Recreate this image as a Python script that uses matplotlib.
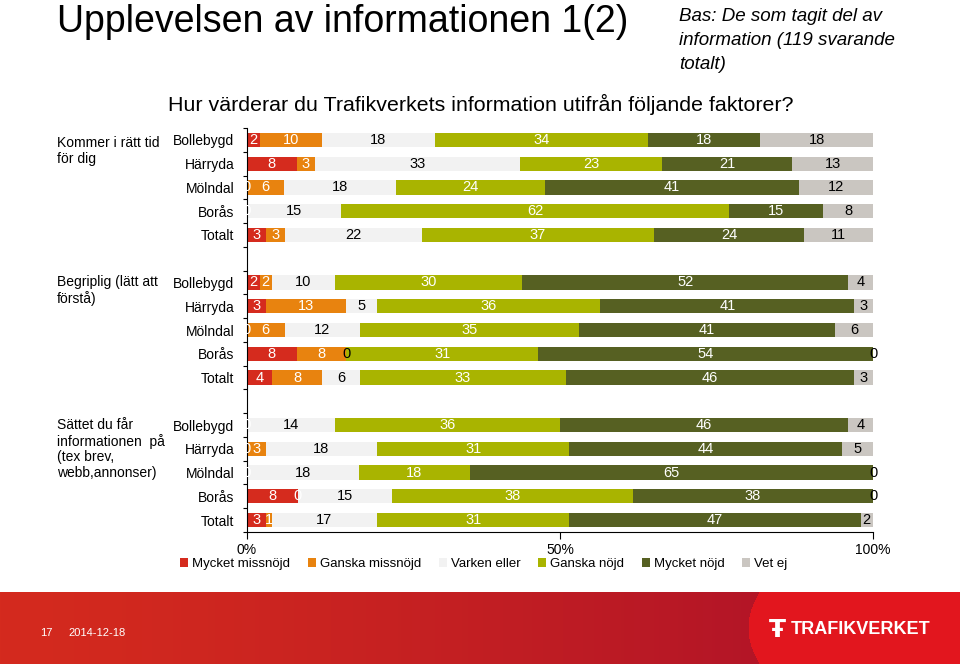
import numpy as np
import matplotlib
matplotlib.use("Agg")
import matplotlib.pyplot as plt
from matplotlib.patches import Patch

plt.rcParams['font.family'] = ['Liberation Sans', 'DejaVu Sans']

# Data
kategorier = ["Mycket missnöjd", "Ganska missnöjd", "Varken eller",
              "Ganska nöjd", "Mycket nöjd", "Vet ej"]
farger = ["#d52b1e", "#e8830f", "#f2f2f2", "#a9b400", "#566022", "#cac6c1"]
textfarg = ["white", "white", "black", "white", "white", "black"]

orter = ["Bollebygd", "Härryda", "Mölndal", "Borås", "Totalt"]
fragor = ["Kommer i rätt tid\nför dig",
          "Begriplig (lätt att\nförstå)",
          "Sättet du får\ninformationen  på\n(tex brev,\nwebb,annonser)"]

# varje rad: missnöjd, ganska missnöjd, varken, ganska nöjd, mycket nöjd, vet ej
ratt_tid = [[2, 10, 18, 34, 18, 18],
            [8, 3, 33, 23, 21, 13],
            [0, 6, 18, 24, 41, 12],
            [0, 0, 15, 62, 15, 8],
            [3, 3, 22, 37, 24, 11]]
begriplig = [[2, 2, 10, 30, 52, 4],
             [3, 13, 5, 36, 41, 3],
             [0, 6, 12, 35, 41, 6],
             [8, 8, 0, 31, 54, 0],
             [4, 8, 6, 33, 46, 3]]
sattet = [[0, 0, 14, 36, 46, 4],
          [0, 3, 18, 31, 44, 5],
          [0, 0, 18, 18, 65, 0],
          [8, 0, 15, 38, 38, 0],
          [3, 1, 17, 31, 47, 2]]

fig = plt.figure(figsize=(9.6, 6.64), dpi=100)
ax = fig.add_axes([247 / 960, 1 - 532 / 664, 626 / 960, 404 / 664])

# rader: 5 per grupp, en tom rad emellan
ypos = []
for g in range(3):
    for i in range(5):
        ypos.append(g * 6 + i)
ypos = np.array(ypos)

varden = np.array(ratt_tid + begriplig + sattet, dtype=float)
# 100 % staplat diagram: varje rad skalas till 100
andel = varden / varden.sum(axis=1, keepdims=True) * 100
vanster = np.zeros(len(ypos))
for k in range(6):
    ax.barh(ypos, andel[:, k], left=vanster, height=0.6,
            color=farger[k], label=kategorier[k])
    for y, l, a, v in zip(ypos, vanster, andel[:, k], varden[:, k]):
        ax.text(l + a / 2, y, f"{int(v)}", ha="center", va="center",
                fontsize=10.5, color=textfarg[k])
    vanster += andel[:, k]

ax.set_xlim(0, 100)
ax.set_ylim(16.5, -0.5)
ax.set_yticks(ypos)
ax.set_yticklabels(orter * 3, fontsize=10)
ax.tick_params(axis="y", length=0, pad=9)
ax.set_yticks(np.arange(-0.5, 17, 1), minor=True)
ax.tick_params(axis="y", which="minor", length=3, width=0.8)
ax.set_xticks([0, 50, 100])
ax.set_xticklabels(["0%", "50%", "100%"], fontsize=10)
ax.tick_params(axis="x", length=5, width=0.8, pad=3)
for s in ["top", "right"]:
    ax.spines[s].set_visible(False)

# gruppnamn
for g, namn in enumerate(fragor):
    y0 = ax.transData.transform((0, g * 6))[1]
    yf = fig.transFigure.inverted().transform((0, y0))[1]
    skift = 4 if g == 0 else 7
    fig.text(57 / 960, yf + skift / 664, namn, fontsize=10, ha="left", va="top",
             linespacing=1.15)

# rubriker
fig.text(57 / 960, 1 - 22 / 664, "Upplevelsen av informationen 1(2)",
         fontsize=27, va="center", ha="left")
fig.text(679 / 960, 1 - 8 / 664,
         "Bas: De som tagit del av\ninformation (119 svarande\ntotalt)",
         fontsize=13.5, style="italic", va="top", ha="left", linespacing=1.55)
fig.text(168 / 960, 1 - 104 / 664,
         "Hur värderar du Trafikverkets information utifrån följande faktorer?",
         fontsize=15.4, va="center", ha="left")

# legend
handtag = [Patch(facecolor=f, label=k) for f, k in zip(farger, kategorier)]
fig.legend(handles=handtag, loc="center", bbox_to_anchor=(0.504, 1 - 564 / 664),
           ncol=6, frameon=False, fontsize=9.5, handlelength=0.6,
           handleheight=0.6, handletextpad=0.3, columnspacing=1.35)

# sidfot
fot = fig.add_axes([0, 0, 1, 72 / 664])
h, w = 72, 960
xx = np.linspace(0, 1, w)
start = np.array([212, 42, 30]) / 255
slut = np.array([168, 14, 42]) / 255
bild = np.zeros((h, w, 3))
for c in range(3):
    bild[:, :, c] = start[c] + (slut[c] - start[c]) * xx[None, :] ** 1.3
yy = np.linspace(-1, 1, h)[:, None]
kant = 748 + 11 * yy ** 2
hoger = np.arange(w)[None, :] >= kant
bild[hoger] = np.array([226, 22, 30]) / 255
fot.imshow(bild, aspect="auto", extent=[0, w, 0, h], interpolation="nearest")
fot.set_xlim(0, w)
fot.set_ylim(0, h)
fot.axis("off")
fot.text(40, 31, "17", color="white", fontsize=8, va="center")
fot.text(68, 31, "2014-12-18", color="white", fontsize=8, va="center")
fot.text(791, 34, "TRAFIKVERKET", color="white", fontsize=13,
         fontweight="bold", va="center", ha="left")
fot.text(777, 34, "Ŧ", color="white", fontsize=18, fontweight="bold",
         va="center", ha="center", family="DejaVu Sans")

fig.savefig("out.png", dpi=100)
